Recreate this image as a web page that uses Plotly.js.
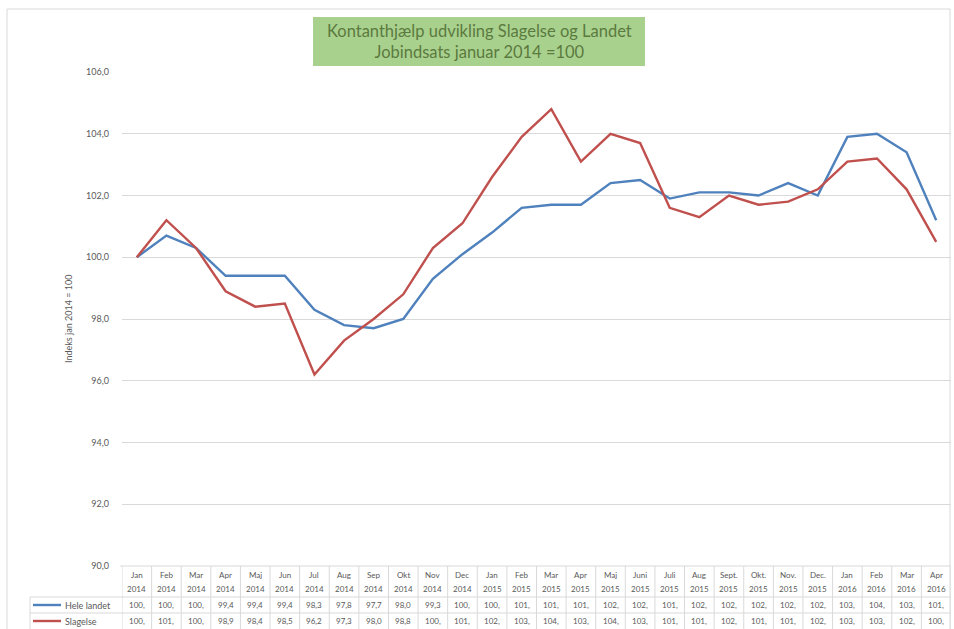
<!DOCTYPE html>
<html>
<head>
<meta charset="utf-8">
<script src="https://cdn.plot.ly/plotly-3.0.1.min.js"></script>
<style>html,body{margin:0;padding:0;background:#fff;}#chart{width:954px;height:629px;}</style>
</head>
<body>
<div id="chart"></div>
<script>
const months = ["Jan","Feb","Mar","Apr","Maj","Jun","Jul","Aug","Sep","Okt","Nov","Dec",
  "Jan","Feb","Mar","Apr","Maj","Juni","Juli","Aug","Sept.","Okt.","Nov.","Dec.",
  "Jan","Feb","Mar","Apr"];
const years = ["2014","2014","2014","2014","2014","2014","2014","2014","2014","2014","2014","2014",
  "2015","2015","2015","2015","2015","2015","2015","2015","2015","2015","2015","2015",
  "2016","2016","2016","2016"];
const heleLandet = [100.0,100.7,100.3,99.4,99.4,99.4,98.3,97.8,97.7,98.0,99.3,100.1,
  100.8,101.6,101.7,101.7,102.4,102.5,101.9,102.1,102.1,102.0,102.4,102.0,
  103.9,104.0,103.4,101.2];
const slagelse = [100.0,101.2,100.3,98.9,98.4,98.5,96.2,97.3,98.0,98.8,100.3,101.1,
  102.6,103.9,104.8,103.1,104.0,103.7,101.6,101.3,102.0,101.7,101.8,102.2,
  103.1,103.2,102.2,100.5];
const seriesNames = ["Hele landet","Slagelse"];
const yTickVals = [90,92,94,96,98,100,102,104,106];
const yTickText = ["90,0","92,0","94,0","96,0","98,0","100,0","102,0","104,0","106,0"];
const titleText = "Kontanthjælp udvikling Slagelse og Landet<br>Jobindsats januar 2014 =100";
const yTitle = "Indeks jan 2014 = 100";

const cats = months.map((m,i) => m + " " + years[i]);
const colors = ["#4f81bd","#c0504d"];
const font = "Lato, 'Liberation Sans', sans-serif";

const traces = [heleLandet, slagelse].map((vals,k) => ({
  type: "scatter", mode: "lines", x: cats, y: vals, name: seriesNames[k],
  line: {color: colors[k], width: 2.4}, showlegend: false, hoverinfo: "x+y"
}));

// geometry helpers (plot area: left 122, right 951, top 72, bottom 566)
const L = 122, R = 951, T = 72, B = 566;
const px = p => (p - L) / (R - L);
const py = p => (B - p) / (B - T);

const fmt = v => v.toFixed(1).replace(".", ",").slice(0, 4);

const annotations = [];
const shapes = [];
const tfont = {family: font, size: 8, color: "#595959"};
cats.forEach((c,i) => {
  annotations.push({x: c, xref: "x", y: py(575), yref: "paper", text: months[i], showarrow: false, font: tfont, xanchor: "center", yanchor: "middle"});
  annotations.push({x: c, xref: "x", y: py(589), yref: "paper", text: years[i], showarrow: false, font: tfont, xanchor: "center", yanchor: "middle"});
  annotations.push({x: c, xref: "x", y: py(605), yref: "paper", text: fmt(heleLandet[i]), showarrow: false, font: tfont, xanchor: "center", yanchor: "middle"});
  annotations.push({x: c, xref: "x", y: py(621), yref: "paper", text: fmt(slagelse[i]), showarrow: false, font: tfont, xanchor: "center", yanchor: "middle"});
});
// table vertical separators
for (let i = 0; i <= cats.length; i++) {
  shapes.push({type: "line", xref: "x", yref: "paper", x0: i - 0.5, x1: i - 0.5, y0: py(566), y1: py(629),
    line: {color: "#d9d9d9", width: 1}});
}
// table horizontal lines
shapes.push({type: "line", xref: "paper", yref: "paper", x0: px(120), x1: px(951), y0: py(566), y1: py(566), line: {color: "#d9d9d9", width: 1}});
[597, 613].forEach(y => shapes.push({type: "line", xref: "paper", yref: "paper", x0: px(30), x1: px(951), y0: py(y), y1: py(y), line: {color: "#d9d9d9", width: 1}}));
shapes.push({type: "line", xref: "paper", yref: "paper", x0: px(30), x1: px(30), y0: py(597), y1: py(629), line: {color: "#d9d9d9", width: 1}});
// legend keys inside table
[605, 621].forEach((y,k) => {
  shapes.push({type: "line", xref: "paper", yref: "paper", x0: px(33), x1: px(61), y0: py(y), y1: py(y), line: {color: colors[k], width: 2.4}});
  annotations.push({x: px(63), xref: "paper", y: py(y), yref: "paper", text: seriesNames[k], showarrow: false, xanchor: "left", yanchor: "middle",
    font: {family: font, size: 9, color: "#595959"}});
});
// chart border
shapes.push({type: "rect", xref: "paper", yref: "paper", x0: px(7), x1: px(950), y0: py(9), y1: py(660), line: {color: "#d9d9d9", width: 1}, layer: "below"});
// title box
shapes.push({type: "rect", xref: "paper", yref: "paper", x0: px(313), x1: px(645), y0: py(66), y1: py(17),
  fillcolor: "#a9d18e", line: {width: 0}, layer: "below"});
annotations.push({x: px(479), xref: "paper", y: py(41.5), yref: "paper", text: titleText, showarrow: false,
  xanchor: "center", yanchor: "middle",
  font: {family: font, size: 16.5, color: "#5b7a3e"}});
// y-axis title
annotations.push({x: px(68), xref: "paper", y: 0.5, yref: "paper", text: yTitle, textangle: -90, showarrow: false,
  xanchor: "center", yanchor: "middle",
  font: {family: font, size: 9, color: "#595959"}});

const layout = {
  width: 954, height: 629,
  margin: {l: L, r: 954 - R, t: T, b: 629 - B, pad: 0},
  paper_bgcolor: "#fff", plot_bgcolor: "#fff",
  showlegend: false,
  xaxis: {type: "category", range: [-0.5, cats.length - 0.5], showticklabels: false, showgrid: false, zeroline: false, showline: false, ticks: ""},
  yaxis: {range: [90, 106], tickvals: yTickVals, ticktext: yTickText, showgrid: true, gridcolor: "#d9d9d9", gridwidth: 1,
    zeroline: false, showline: false, ticks: "", ticklabelstandoff: 12, tickfont: {family: font, size: 9, color: "#595959"}},
  annotations: annotations, shapes: shapes
};
Plotly.newPlot("chart", traces, layout, {displayModeBar: false, staticPlot: true});
</script>
</body>
</html>
